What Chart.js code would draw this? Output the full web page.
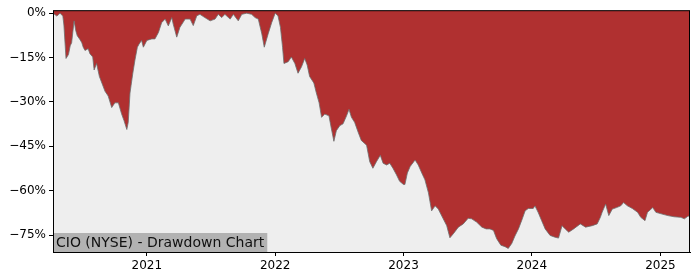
<!DOCTYPE html>
<html>
<head>
<meta charset="utf-8">
<script src="https://cdn.jsdelivr.net/npm/chart.js@4/dist/chart.umd.min.js"></script>
<style>
  html, body { margin: 0; padding: 0; background: #fff; }
  #wrap { width: 700px; height: 280px; }
</style>
</head>
<body>
<div id="wrap"><canvas id="dd" width="700" height="280"></canvas></div>
<script>
// CIO (NYSE) drawdown, values in %
const dates = [
  '2020-04-09','2020-04-20','2020-04-29','2020-05-07','2020-05-10','2020-05-16','2020-05-23','2020-05-28',
  '2020-06-01','2020-06-08','2020-06-13','2020-06-17','2020-06-25','2020-06-30','2020-07-04','2020-07-09',
  '2020-07-18','2020-07-23','2020-07-31','2020-08-04','2020-08-11','2020-08-19','2020-08-26','2020-09-04',
  '2020-09-13','2020-09-23','2020-10-02','2020-10-12','2020-10-21','2020-10-28','2020-11-05','2020-11-09',
  '2020-11-14','2020-11-22','2020-11-28','2020-12-05','2020-12-10','2020-12-17','2020-12-22','2021-01-01',
  '2021-01-15','2021-01-24','2021-02-03','2021-02-12','2021-02-22','2021-03-03','2021-03-13','2021-03-17',
  '2021-03-27','2021-04-05','2021-04-20','2021-05-04','2021-05-13','2021-05-23','2021-06-01','2021-06-15',
  '2021-06-30','2021-07-14','2021-07-23','2021-08-02','2021-08-11','2021-08-26','2021-09-04','2021-09-18',
  '2021-09-28','2021-10-12','2021-10-26','2021-11-05','2021-11-14','2021-11-24','2021-12-01','2021-12-12',
  '2021-12-22','2022-01-01','2022-01-09','2022-01-16','2022-01-22','2022-01-26','2022-02-07','2022-02-16',
  '2022-02-26','2022-03-07','2022-03-17','2022-03-26','2022-04-02','2022-04-09','2022-04-21','2022-04-28',
  '2022-05-06','2022-05-13','2022-05-22','2022-06-03','2022-06-10','2022-06-17','2022-06-24','2022-07-04',
  '2022-07-13','2022-07-23','2022-07-30','2022-08-06','2022-08-15','2022-08-25','2022-09-03','2022-09-18',
  '2022-09-27','2022-10-06','2022-10-16','2022-10-27','2022-11-04','2022-11-14','2022-11-23','2022-12-02',
  '2022-12-12','2022-12-21','2023-01-01','2023-01-05','2023-01-12','2023-01-20','2023-02-03','2023-02-12',
  '2023-02-22','2023-03-03','2023-03-13','2023-03-22','2023-04-01','2023-04-10','2023-04-24','2023-05-04',
  '2023-05-13','2023-05-23','2023-06-06','2023-06-20','2023-07-04','2023-07-14','2023-07-28','2023-08-12',
  '2023-08-24','2023-09-04','2023-09-14','2023-09-23','2023-10-05','2023-10-17','2023-10-26','2023-11-05',
  '2023-11-14','2023-11-24','2023-12-03','2023-12-13','2023-12-22','2024-01-05','2024-01-10','2024-01-19',
  '2024-01-29','2024-02-08','2024-02-22','2024-03-07','2024-03-17','2024-03-27','2024-04-05','2024-04-15',
  '2024-04-29','2024-05-18','2024-06-02','2024-06-21','2024-07-05','2024-07-14','2024-07-19','2024-07-29',
  '2024-08-07','2024-08-17','2024-08-29','2024-09-10','2024-09-18','2024-09-29','2024-10-13','2024-10-28',
  '2024-11-06','2024-11-18','2024-11-25','2024-12-10','2024-12-19','2025-01-03','2025-01-22','2025-02-09',
  '2025-02-28','2025-03-10','2025-03-19','2025-03-26'
];
const drawdown = [
  0, -1, 0, -1, -4, -15.3, -14, -11,
  -10, -2.6, -6, -7.6, -9, -10, -11.5, -12.6,
  -12, -13.7, -14.8, -19.2, -17, -21.4, -23.6, -26.4,
  -28, -31.9, -30.3, -30.3, -34, -36.3, -39.3, -36.9,
  -27, -20.3, -15.9, -11.5, -10.4, -9.2, -11.5, -9.2,
  -8.7, -8.7, -6.5, -3.2, -2, -4.3, -1.5, -3.7,
  -8.1, -4.8, -2, -2, -4.2, -0.9, -0.4, -1.5,
  -2.6, -2, -0.4, -1.5, -0.4, -2, -0.4, -2.6,
  -0.4, 0, -0.4, -1.5, -2, -7, -11.5, -7,
  -3.2, 0, -0.9, -4.8, -11.5, -17, -16.4, -14.8,
  -17, -20.3, -18.1, -15.3, -17.5, -21.4, -23.6, -26.9,
  -30.3, -35.2, -34.1, -34.7, -39.1, -43.3, -39.7, -38,
  -37.4, -34.7, -32.5, -35.2, -36.9, -40.2, -43, -44.6,
  -50.2, -52.4, -50.2, -48, -50.7, -51.3, -50.7, -52.4,
  -54.6, -56.8, -57.9, -57.9, -54, -51.8, -49.6, -51.3,
  -54, -56.3, -60.7, -66.8, -65.1, -66.2, -69.5, -71.8,
  -75.9, -74.5, -72.3, -71.2, -69.3, -69.5, -70.6, -72.3,
  -72.9, -72.9, -73.4, -76.2, -78.4, -78.9, -79.5, -77.8,
  -75.3, -72.9, -70.1, -66.8, -66, -66, -65.1, -67.3,
  -70.1, -72.9, -75.1, -75.7, -76, -71.8, -72.9, -74,
  -72.9, -71.2, -72.3, -71.8, -71.2, -69, -67.3, -64.5,
  -68.4, -66.2, -65.7, -65.1, -64, -65.1, -66, -67.3,
  -69, -70.1, -67.3, -65.7, -67.3, -67.8, -68.4, -68.8,
  -69, -69.5, -68.7, -68.4
];
const yTicks = [0, -15, -30, -45, -60, -75];
const xTickYears = [2021, 2022, 2023, 2024, 2025];
const chartLabel = 'CIO (NYSE) - Drawdown Chart';

const ts = d => Date.parse(d + 'T00:00:00Z');
const points = dates.map((d, i) => ({ x: ts(d), y: drawdown[i] }));

// light grey plot face + black frame + label box, like the matplotlib original
const framePlugin = {
  id: 'frame',
  beforeDatasetsDraw(chart) {
    const { ctx, chartArea: a } = chart;
    ctx.save();
    ctx.fillStyle = '#eeeeee';
    ctx.fillRect(a.left, a.top, a.right - a.left, a.bottom - a.top);
    ctx.restore();
  },
  afterDatasetsDraw(chart) {
    const { ctx, chartArea: a } = chart;
    ctx.save();
    ctx.font = '14px "DejaVu Sans"';
    const w = ctx.measureText(chartLabel).width;
    ctx.fillStyle = '#b2b2b2';
    ctx.fillRect(a.left, a.bottom - 19, w + 6, 19);
    ctx.fillStyle = '#111';
    ctx.textBaseline = 'middle';
    ctx.fillText(chartLabel, a.left + 3, a.bottom - 9);
    ctx.strokeStyle = '#000';
    ctx.lineWidth = 1;
    ctx.strokeRect(a.left + 0.5, a.top + 0.5, a.right - a.left - 1, a.bottom - a.top);
    ctx.restore();
  }
};

new Chart(document.getElementById('dd'), {
  type: 'line',
  data: {
    datasets: [{
      data: points,
      borderColor: 'rgba(110,110,110,0.8)',
      borderWidth: 1,
      backgroundColor: '#b03030',
      fill: 'end',
      pointRadius: 0,
      tension: 0,
    }],
  },
  options: {
    responsive: false,
    devicePixelRatio: 1,
    animation: false,
    layout: { padding: { top: 7, right: 10, left: 0, bottom: 0 } },
    plugins: { legend: { display: false }, tooltip: { enabled: false } },
    scales: {
      x: {
        type: 'linear',
        min: ts('2020-04-09'),
        max: ts('2025-03-26'),
        afterBuildTicks: s => { s.ticks = xTickYears.map(y => ({ value: Date.UTC(y, 0, 1) })); },
        afterFit: s => { s.height = 28; },
        grid: { display: true, drawOnChartArea: false, drawTicks: true, tickLength: 4, color: '#000' },
        border: { display: true, color: '#000' },
        ticks: {
          color: '#000', font: { family: 'DejaVu Sans', size: 12 }, padding: 3, maxRotation: 0,
          callback: v => new Date(v).getUTCFullYear(),
        },
      },
      y: {
        min: -80.7,
        max: 1,
        afterBuildTicks: s => { s.ticks = yTicks.map(v => ({ value: v })); },
        afterFit: s => { s.width = 53; },
        grid: { display: true, drawOnChartArea: false, drawTicks: true, tickLength: 4, color: '#000' },
        border: { display: true, color: '#000' },
        ticks: {
          color: '#000', font: { family: 'DejaVu Sans', size: 12 }, padding: 3,
          callback: v => (v < 0 ? '\u2212' + Math.abs(v) : v) + '%',
        },
      },
    },
  },
  plugins: [framePlugin],
});
</script>
</body>
</html>
